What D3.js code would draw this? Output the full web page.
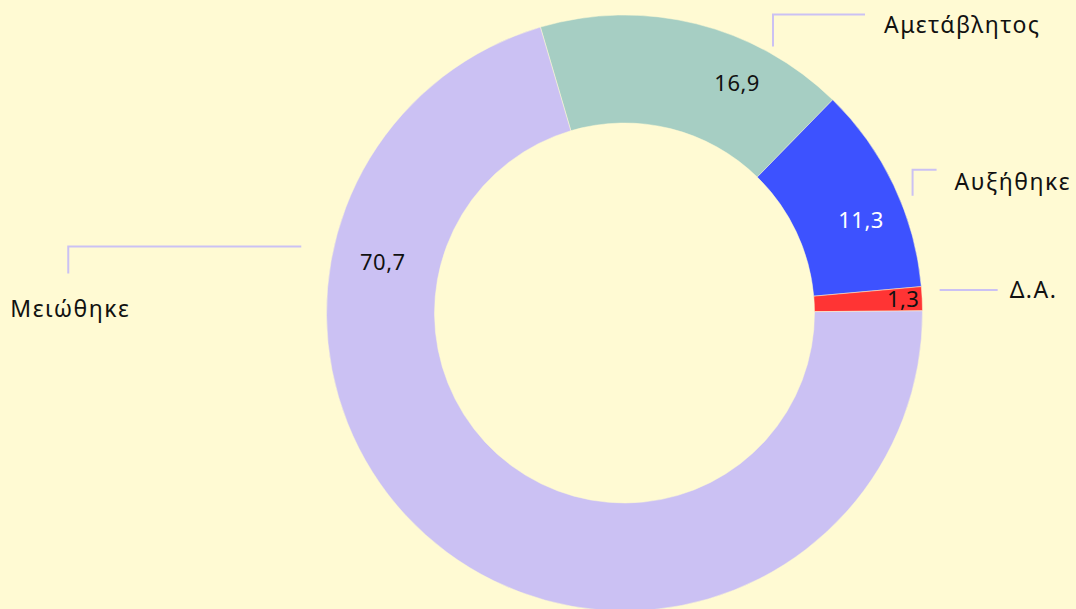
<!DOCTYPE html>
<html>
<head>
  <meta charset="UTF-8">
  <title>Donut</title>
  <script src="https://cdnjs.cloudflare.com/ajax/libs/d3/7.8.5/d3.min.js"></script>
  <style type="text/css">
    body { margin: 0; background: #fffad3; }
    text { font-family: "Noto Sans", sans-serif; }
  </style>
</head>
<body>
  <script type="text/javascript">

    // data
    var categories = ["Αμετάβλητος", "Αυξήθηκε", "Δ.Α.", "Μειώθηκε"];
    var values = [16.9, 11.3, 1.3, 70.7];
    var valueLabels = ["16,9", "11,3", "1,3", "70,7"];
    var palette = ["#a6cec3", "#3d52ff", "#ff3434", "#cbc1f3"];

    // label layout per slice (where along the slice, connector shape)
    var layout = [
      {vFrac: 0.70, rIn: 256, lFrac: 0.75, gap: 7,  rise: 32, run: 92,   tx: 19, ty: 10, side: "right", fill: "#111"},
      {vFrac: 0.60, rIn: 254, lFrac: 0.58, gap: 13, rise: 26, run: 24,   tx: 18, ty: 12, side: "right", fill: "#fff"},
      {vFrac: 0.50, rIn: 279, lFrac: 0.19, gap: 18, rise: 0,  run: 58,   tx: 12, ty: 0,  side: "right", fill: "#111"},
      {vFrac: 0.757, rIn: 247, lFrac: 0.756, gap: 32, rise: -27, run: -233, tx: 2, ty: 35, side: "left", fill: "#111"}
    ];

    var width = 1076, height = 609;
    var cx = 624.5, cy = 313;
    var outerR = 298, innerR = 190;
    var lineColor = "#cbc1f3";

    var svg = d3.select("body")
      .append("svg")
        .attr("width", width)
        .attr("height", height)
        .style("display", "block");

    var g = svg.append("g")
      .attr("transform", "translate(" + cx + "," + cy + ")");

    var start = -16.4 * Math.PI / 180;
    var pie = d3.pie()
      .sort(null)
      .startAngle(start)
      .endAngle(start + 2 * Math.PI)
      .value(function (d) { return d; });

    var arcs = pie(values);

    var arc = d3.arc()
      .innerRadius(innerR)
      .outerRadius(outerR);

    var color = d3.scaleOrdinal()
      .domain(categories)
      .range(palette);

    g.selectAll("path.slice")
      .data(arcs)
      .enter()
      .append("path")
        .attr("class", "slice")
        .attr("d", arc)
        .attr("fill", function (d, i) { return color(categories[i]); })
        .attr("stroke", "#fffad3")
        .attr("stroke-width", 0.5);

    function angleAt(d, f) {
      return d.startAngle + (d.endAngle - d.startAngle) * f;
    }
    function pt(a, r) {
      return [Math.sin(a) * r, -Math.cos(a) * r];
    }

    // value labels inside the ring
    g.selectAll("text.val")
      .data(arcs)
      .enter()
      .append("text")
        .attr("class", "val")
        .attr("x", function (d, i) { return pt(angleAt(d, layout[i].vFrac), layout[i].rIn)[0]; })
        .attr("y", function (d, i) { return pt(angleAt(d, layout[i].vFrac), layout[i].rIn)[1]; })
        .attr("text-anchor", "middle")
        .attr("dy", "0.35em")
        .style("font-size", "22px")
        .style("letter-spacing", "0.5px")
        .attr("fill", function (d, i) { return layout[i].fill; })
        .text(function (d, i) { return valueLabels[i]; });

    // connectors + category labels
    arcs.forEach(function (d, i) {
      var L = layout[i];
      var p0 = pt(angleAt(d, L.lFrac), outerR + L.gap);
      var p1, p2;
      if (L.side === "right") {
        p1 = [p0[0], p0[1] - L.rise];
        p2 = [p1[0] + L.run, p1[1]];
      } else {
        p1 = [p0[0] + L.run, p0[1]];
        p2 = [p1[0], p1[1] - L.rise];
      }
      g.append("path")
        .attr("d", d3.line()([p0, p1, p2]))
        .attr("fill", "none")
        .attr("stroke", lineColor)
        .attr("stroke-width", 2);

      var t = g.append("text")
        .attr("dy", "0.35em")
        .style("font-size", "23px")
        .style("letter-spacing", "1.5px")
        .attr("fill", "#111")
        .text(categories[i]);
      t.attr("x", p2[0] + L.tx)
        .attr("y", p2[1] + L.ty)
        .attr("text-anchor", L.side === "right" ? "start" : "middle");
    });

  </script>
</body>
</html>
